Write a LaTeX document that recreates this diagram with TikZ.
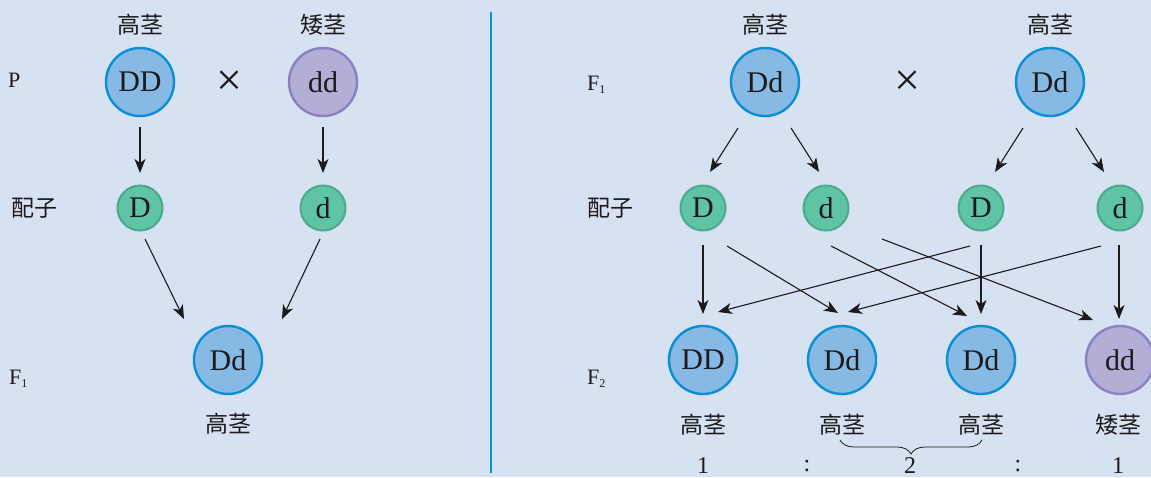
\documentclass[tikz,border=0pt]{standalone}
\usepackage{fontspec}
\setmainfont{Liberation Serif}
\newfontfamily\cjk{Noto Sans CJK SC}
\usetikzlibrary{arrows.meta,decorations.pathreplacing,calc}
\definecolor{bg}{RGB}{214,226,241}
\definecolor{bluefill}{RGB}{134,186,228}
\definecolor{bluedraw}{RGB}{10,143,214}
\definecolor{purpfill}{RGB}{178,174,214}
\definecolor{purpdraw}{RGB}{140,128,195}
\definecolor{greenfill}{RGB}{95,196,166}
\definecolor{greendraw}{RGB}{75,170,140}
\definecolor{divider}{RGB}{0,146,222}
\definecolor{ink}{RGB}{30,26,27}
\tikzset{
  big/.style={circle, minimum size=68pt, inner sep=0pt, line width=2.4pt, text=ink, font=\fontsize{30}{30}\selectfont},
  tallc/.style={big, draw=bluedraw, fill=bluefill},
  shortc/.style={big, draw=purpdraw, fill=purpfill},
  gam/.style={circle, minimum size=45pt, inner sep=0pt, line width=2pt, draw=greendraw, fill=greenfill, text=ink, font=\fontsize{30}{30}\selectfont},
  lab/.style={text=ink, font=\cjk\fontsize{23}{23}\selectfont, inner sep=0pt},
  gen/.style={text=ink, font=\fontsize{22}{22}\selectfont, inner sep=0pt},
  ratio/.style={text=ink, font=\fontsize{24}{24}\selectfont, inner sep=0pt},
  cross/.style={text=ink, font=\fontsize{46}{46}\selectfont, inner sep=0pt},
  arr/.style={-{Stealth[length=14pt,width=11pt,inset=4pt]}, line width=1.1pt, draw=ink},
}
\newcommand{\Fsub}[1]{F{\fontsize{12}{12}\selectfont\raisebox{-3pt}{#1}}}
\begin{document}
\begin{tikzpicture}[x=1pt,y=-1pt]
\fill[bg] (0,0) rectangle (1151,477);
\useasboundingbox (0,0) rectangle (1151,477);
\draw[divider, line width=1.3pt] (491,12) coordinate (dv1) -- (491,473) coordinate (dv2);

% ---------- left panel ----------
\node[lab] (lt1) at (140,25) {高茎};
\node[lab] (ls1) at (323,25) {矮茎};
\node[gen, anchor=west] (lP) at (8,80) {P};
\node[tallc] (pDD) at (140,82) {DD};
\node[shortc] (pdd) at (323,82) {dd};
\node[cross] (lx) at (229,83) {×};
\node[lab, anchor=west] (lg) at (11,208) {配子};
\node[gam] (pD) at (140,208) {D};
\node[gam] (pd) at (323,208) {d};
\node[gen, anchor=west] (lF1) at (9,379) {\Fsub{1}};
\node[tallc] (f1) at (228,360) {Dd};
\node[lab] (lf1) at (228,424) {高茎};

\draw[arr] ([shift={(0,45)}]pDD.center) -- ([shift={(0,-35)}]pD.center);
\draw[arr] ([shift={(0,45)}]pdd.center) -- ([shift={(0,-35)}]pd.center);
\draw[arr] ([shift={(5,31)}]pD.center) -- ([shift={(-44,-41)}]f1.center);
\draw[arr] ([shift={(-3,31)}]pd.center) -- ([shift={(54,-41)}]f1.center);

% ---------- right panel ----------
\node[lab] (rt1) at (765,25) {高茎};
\node[lab] (rt2) at (1050,25) {高茎};
\node[gen, anchor=west] (rF1) at (587,85) {\Fsub{1}};
\node[tallc] (q1) at (765,82) {Dd};
\node[tallc] (q2) at (1050,82) {Dd};
\node[cross] (rx) at (907,83) {×};
\node[lab, anchor=west] (rg) at (587,208) {配子};
\node[gam] (g1) at (703,208) {D};
\node[gam] (g2) at (826,208) {d};
\node[gam] (g3) at (981,208) {D};
\node[gam] (g4) at (1120,208) {d};
\node[gen, anchor=west] (rF2) at (587,379) {\Fsub{2}};
\node[tallc] (r1) at (703,360) {DD};
\node[tallc] (r2) at (842,360) {Dd};
\node[tallc] (r3) at (981,360) {Dd};
\node[shortc] (r4) at (1120,360) {dd};
\node[lab] (lr1) at (703,425) {高茎};
\node[lab] (lr2) at (842,425) {高茎};
\node[lab] (lr3) at (981,425) {高茎};
\node[lab] (lr4) at (1118,425) {矮茎};

\draw[arr] ([shift={(-27,46)}]q1.center) -- ([shift={(7,-36)}]g1.center);
\draw[arr] ([shift={(26,46)}]q1.center) -- ([shift={(-7,-36)}]g2.center);
\draw[arr] ([shift={(-27,46)}]q2.center) -- ([shift={(14,-36)}]g3.center);
\draw[arr] ([shift={(26,46)}]q2.center) -- ([shift={(-16,-36)}]g4.center);

\draw[arr] ([shift={(0,37)}]g1.center) -- ([shift={(0,-46)}]r1.center);
\draw[arr] ([shift={(24,38)}]g1.center) -- ([shift={(-4,-47)}]r2.center);
\draw[arr] ([shift={(5,38)}]g2.center) -- ([shift={(-14,-44)}]r3.center);
\draw[arr] ([shift={(56,31)}]g2.center) -- ([shift={(-27,-40)}]r4.center);
\draw[arr] ([shift={(-11,38)}]g3.center) -- ([shift={(15,-48)}]r1.center);
\draw[arr] ([shift={(0,37)}]g3.center) -- ([shift={(0,-46)}]r3.center);
\draw[arr] ([shift={(-19,38)}]g4.center) -- ([shift={(6,-48)}]r2.center);
\draw[arr] ([shift={(-1,37)}]g4.center) -- ([shift={(-1,-41)}]r4.center);

\draw[ink, line width=0.8pt, decorate, decoration={brace, mirror, amplitude=14pt}]
  ([shift={(-2,15)}]lr2.center) -- ([shift={(1,15)}]lr3.center);

\node[ratio] (n1) at (703,466) {1};
\node[ratio] (c1) at (807,466) {:};
\node[ratio] (n2) at (910,466) {2};
\node[ratio] (c2) at (1018,466) {:};
\node[ratio] (n3) at (1118,466) {1};
\end{tikzpicture}
\end{document}
